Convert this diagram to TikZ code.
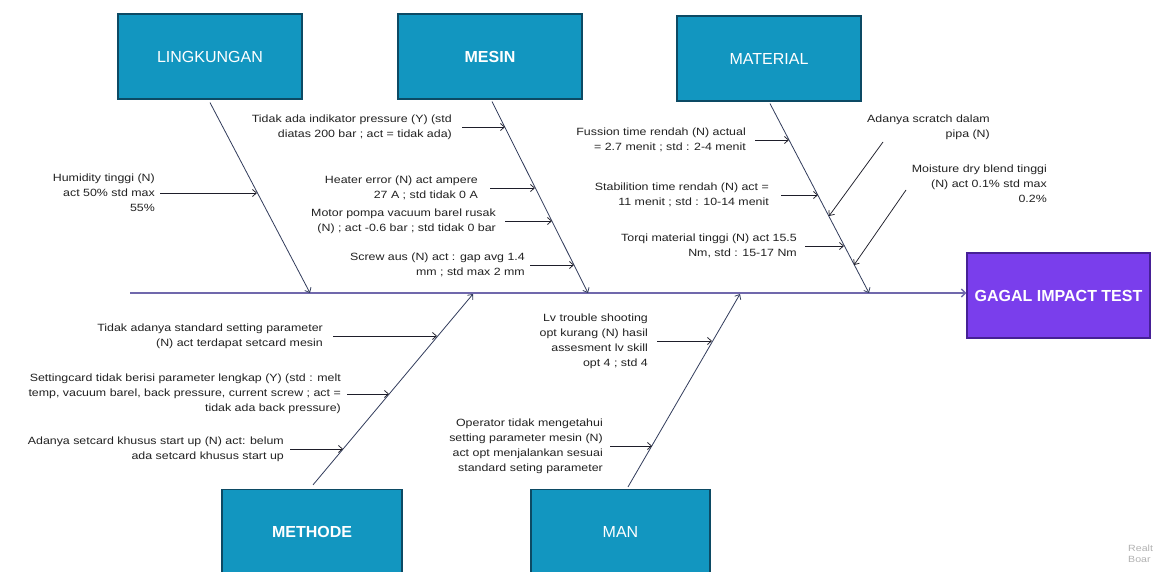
\documentclass[tikz,border=0pt]{standalone}
\usepackage{fontspec}
\setmainfont{Liberation Sans}[FakeStretch=1.18]
\newfontfamily\boxfont{Liberation Sans}
\usetikzlibrary{arrows.meta,calc}
\definecolor{boxblue}{RGB}{18,150,192}
\definecolor{boxedge}{RGB}{12,74,100}
\definecolor{effpurple}{RGB}{122,62,236}
\definecolor{effedge}{RGB}{70,32,150}
\definecolor{txt}{RGB}{34,34,34}
\definecolor{arr}{RGB}{30,30,42}
\definecolor{bonec}{RGB}{50,60,92}
\definecolor{spinec}{RGB}{112,104,172}
\begin{document}
\begin{tikzpicture}[x=1pt,y=-1pt,
  cat/.style={draw=boxedge, fill=boxblue, line width=1.2pt, minimum width=184pt,
    minimum height=85pt, text=white, inner sep=0pt,
    font=\boxfont\fontsize{16}{18}\selectfont},
  effect/.style={draw=effedge, fill=effpurple, line width=1.2pt, minimum width=183pt,
    minimum height=85pt, text=white, inner sep=0pt,
    font=\boxfont\bfseries\fontsize{16}{18}\selectfont},
  cause/.style={anchor=east, align=right, inner sep=0pt, text=txt,
    font=\fontsize{10.5}{15}\selectfont},
  sub/.style={draw=arr, line width=0.75pt, -{Straight Barb[length=4pt,width=7pt]}},
  bone/.style={draw=bonec, line width=0.8pt, -{Straight Barb[length=4pt,width=7pt]}},
  spine/.style={draw=spinec, line width=1.5pt, -{Straight Barb[length=4pt,width=8pt]}},
]
\useasboundingbox (0,0) rectangle (1162,572);
\fill[white] (0,0) rectangle (1162,572);

% category boxes
\node[cat] (ling) at (210,56.5) {LINGKUNGAN};
\node[cat] (mesin) at (490,56.5) {\bfseries MESIN};
\node[cat] (mat) at (769,58.5) {MATERIAL};
\node[cat, minimum width=180pt] (met) at (312,532) {\bfseries METHODE};
\node[cat, minimum width=179pt] (man) at (620.5,532) {MAN};
\node[effect] (eff) at (1058.5,295.5) {GAGAL IMPACT TEST};

% spine
\coordinate (tail) at (130,293);
\draw[spine] (tail) -- (eff.west |- tail);

% bone end points on the spine
\coordinate (lingS) at (310,293);
\coordinate (mesS) at (588,293);
\coordinate (matS) at (869,293);
\coordinate (metS) at (473,294);
\coordinate (manS) at (740,294);

\draw[bone] ([yshift=-3pt]ling.south) -- (lingS);
\draw[bone] ([xshift=2pt,yshift=-2pt]mesin.south) -- (mesS);
\draw[bone] ([xshift=1pt,yshift=-2pt]mat.south) -- (matS);
\draw[bone] ([xshift=1pt,yshift=4pt]met.north) -- (metS);
\draw[bone] ([xshift=7.5pt,yshift=2pt]man.north) -- (manS);

% LINGKUNGAN
\node[cause] (hum) at (155,193) {Humidity tinggi (N)\\act 50\% std max\\55\%};
\coordinate (humT) at (257,193);
\draw[sub] ([xshift=5pt]hum.east) -- (humT);

% MESIN
\node[cause] (m1) at (452,127) {Tidak ada indikator pressure (Y) (std\\diatas 200 bar ; act = tidak ada)};
\node[cause] (m2) at (478,188) {Heater error (N) act ampere\\27 A ; std tidak 0 A};
\node[cause] (m3) at (496,221) {Motor pompa vacuum barel rusak\\(N) ; act -0.6 bar ; std tidak 0 bar};
\node[cause] (m4) at (525,265) {Screw aus (N) act : gap avg 1.4\\mm ; std max 2 mm};
\coordinate (m1T) at (505,127);
\coordinate (m2T) at (535,188);
\coordinate (m3T) at (552,221);
\coordinate (m4T) at (574,265);
\draw[sub] ([xshift=10pt]m1.east) -- (m1T);
\draw[sub] ([xshift=12pt]m2.east) -- (m2T);
\draw[sub] ([xshift=9pt]m3.east) -- (m3T);
\draw[sub] ([xshift=5pt]m4.east) -- (m4T);

% MATERIAL
\node[cause] (t1) at (746,140) {Fussion time rendah (N) actual\\= 2.7 menit ; std : 2-4 menit};
\node[cause] (t2) at (769,195) {Stabilition time rendah (N) act =\\11 menit ; std : 10-14 menit};
\node[cause] (t3) at (797,246) {Torqi material tinggi (N) act 15.5\\Nm, std : 15-17 Nm};
\coordinate (t1T) at (789,140);
\coordinate (t2T) at (818,195);
\coordinate (t3T) at (844,246);
\draw[sub] ([xshift=9pt]t1.east) -- (t1T);
\draw[sub] ([xshift=12pt]t2.east) -- (t2T);
\draw[sub] ([xshift=8pt]t3.east) -- (t3T);

\node[cause] (scr) at (990,127) {Adanya scratch dalam\\pipa (N)};
\node[cause] (moi) at (1047,184) {Moisture dry blend tinggi\\(N) act 0.1\% std max\\0.2\%};
\coordinate (scrA) at (883,142);
\coordinate (scrT) at (829,216);
\coordinate (moiA) at (906,190);
\coordinate (moiT) at (854,265);
\draw[sub] (scrA) -- (scrT);
\draw[sub] (moiA) -- (moiT);

% METHODE
\node[cause] (e1) at (323,336) {Tidak adanya standard setting parameter\\(N) act terdapat setcard mesin};
\node[cause] (e2) at (341,394) {Settingcard tidak berisi parameter lengkap (Y) (std : melt\\temp, vacuum barel, back pressure, current screw ; act =\\tidak ada back pressure)};
\node[cause] (e3) at (284,449) {Adanya setcard khusus start up (N) act: belum\\ada setcard khusus start up};
\coordinate (e1T) at (437,336);
\coordinate (e2T) at (389,394);
\coordinate (e3T) at (343,449);
\draw[sub] ([xshift=10pt]e1.east) -- (e1T);
\draw[sub] ([xshift=6pt]e2.east) -- (e2T);
\draw[sub] ([xshift=6pt]e3.east) -- (e3T);

% MAN
\node[cause] (n1) at (648,341) {Lv trouble shooting\\opt kurang (N) hasil\\assesment lv skill\\opt 4 ; std 4};
\node[cause] (n2) at (603,446) {Operator tidak mengetahui\\setting parameter mesin (N)\\act opt menjalankan sesuai\\standard seting parameter};
\coordinate (n1T) at (712,341);
\coordinate (n2T) at (652,446);
\draw[sub] ([xshift=9pt]n1.east) -- (n1T);
\draw[sub] ([xshift=7pt]n2.east) -- (n2T);

% watermark
\node[anchor=north west, align=left, inner sep=0pt, text=black!30,
  font=\fontsize{9}{11}\selectfont] (wm) at (1128,545) {Realt\\Boar};
\end{tikzpicture}
\end{document}
